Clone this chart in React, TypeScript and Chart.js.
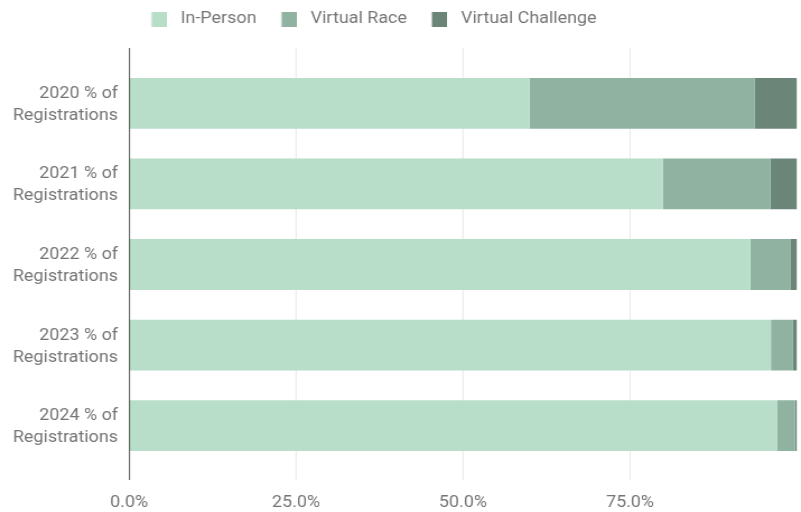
import React, { useEffect, useRef } from 'react';
import { Chart, registerables } from 'chart.js';

Chart.register(...registerables);

// ---- data ----
const categories: string[][] = [
  ['2020 % of', 'Registrations'],
  ['2021 % of', 'Registrations'],
  ['2022 % of', 'Registrations'],
  ['2023 % of', 'Registrations'],
  ['2024 % of', 'Registrations'],
];
const seriesLabels = ['In-Person', 'Virtual Race', 'Virtual Challenge'];
const inPerson = [60.0, 79.9, 93.0, 96.1, 97.0];
const virtualRace = [33.7, 16.1, 6.0, 3.3, 2.7];
const virtualChallenge = [6.3, 4.0, 1.0, 0.6, 0.3];
const xTickValues = [0, 25, 50, 75];

// ---- style ----
const seriesColors = ['#b8dec9', '#8fb3a0', '#6b8678'];
const textColor = '#757575';
const gridColor = '#e4e4e4';
const axisColor = '#444444';
const fontFamily = 'Roboto, "Noto Sans", sans-serif';

// The page is 801x512; the chart is laid out on a narrower canvas that is
// stretched horizontally, which reproduces the wide lettering of the original.
const W = 801;
const H = 512;
const CANVAS_W = 715;
const SX = W / CANVAS_W;

const LEGEND_TOP = 1;
const LEGEND_HEIGHT = 62;
const LEGEND_PAD = 10;
const LEGEND_BOX_SLOT = 30.3;
const LEGEND_SHIFT = 2.2;
const X_AXIS_HEIGHT = 46;
const Y_AXIS_WIDTH = 129 / SX;
const RIGHT_PAD = 4 / SX;
const EXTEND_TOP = 15;
const EXTEND_BOTTOM = 14;

const SWATCH_W = 15 / SX;
const SWATCH_H = 15;
const SWATCH_IMG_W = 21;

function makeSwatch(color: string): HTMLCanvasElement {
  const c = document.createElement('canvas');
  c.width = SWATCH_IMG_W;
  c.height = SWATCH_H;
  const g = c.getContext('2d')!;
  g.fillStyle = color;
  g.fillRect(SWATCH_IMG_W - SWATCH_W, 0, SWATCH_W, SWATCH_H);
  return c;
}

export default function App() {
  const ref = useRef<HTMLCanvasElement | null>(null);

  useEffect(() => {
    if (!ref.current) return;
    const swatches = seriesColors.map(makeSwatch);

    const legendPlacement = {
      id: 'legendPlacement',
      beforeInit(chart: any) {
        const legend = chart.legend;
        if (!legend) return;
        const orig = legend.fit;
        legend.fit = function () {
          orig.call(this);
          this.height = LEGEND_HEIGHT;
        };
      },
      afterLayout(chart: any) {
        const legend = chart.legend;
        if (!legend) return;
        legend.left -= LEGEND_SHIFT;
        legend.right -= LEGEND_SHIFT;
      },
    };

    const extendedGrid = {
      id: 'extendedGrid',
      beforeDatasetsDraw(chart: any) {
        const { ctx, chartArea, scales } = chart;
        const xs = scales.x;
        ctx.save();
        ctx.strokeStyle = gridColor;
        ctx.lineWidth = 1 / SX;
        xTickValues.forEach((v) => {
          if (v === 0) return;
          const px = xs.getPixelForValue(v);
          ctx.beginPath();
          ctx.moveTo(px, chartArea.top - EXTEND_TOP);
          ctx.lineTo(px, chartArea.bottom + EXTEND_BOTTOM);
          ctx.stroke();
        });
        ctx.restore();
      },
      afterDatasetsDraw(chart: any) {
        const { ctx, chartArea, scales } = chart;
        const px = scales.x.getPixelForValue(0) + 0.5 / SX;
        ctx.save();
        ctx.strokeStyle = axisColor;
        ctx.lineWidth = 1 / SX;
        ctx.beginPath();
        ctx.moveTo(px, chartArea.top - EXTEND_TOP);
        ctx.lineTo(px, chartArea.bottom + EXTEND_BOTTOM);
        ctx.stroke();
        ctx.restore();
      },
    };

    const seriesData = [inPerson, virtualRace, virtualChallenge];

    const chart = new Chart(ref.current, {
      type: 'bar',
      data: {
        labels: categories,
        datasets: seriesLabels.map((label, i) => ({
          label,
          data: seriesData[i],
          backgroundColor: seriesColors[i],
          borderWidth: 0,
          barPercentage: 1,
          categoryPercentage: 0.63,
        })),
      },
      options: {
        indexAxis: 'y',
        responsive: false,
        animation: false,
        devicePixelRatio: 1,
        layout: { padding: { top: LEGEND_TOP, right: RIGHT_PAD, bottom: 0, left: 0 } },
        plugins: {
          tooltip: { enabled: false },
          legend: {
            display: true,
            position: 'top',
            align: 'start',
            fullSize: false,
            labels: {
              usePointStyle: true,
              pointStyleWidth: LEGEND_BOX_SLOT,
              padding: LEGEND_PAD,
              color: textColor,
              font: { family: fontFamily, size: 16 },
              generateLabels: (c: any) => {
                const items = (Chart.defaults as any).plugins.legend.labels.generateLabels(c);
                return items.map((it: any, i: number) => ({
                  ...it,
                  pointStyle: swatches[i],
                  lineWidth: 0,
                  strokeStyle: 'rgba(0,0,0,0)',
                }));
              },
            },
          },
        },
        scales: {
          x: {
            type: 'linear',
            stacked: true,
            min: 0,
            max: 100,
            afterBuildTicks: (s: any) => {
              s.ticks = xTickValues.map((v) => ({ value: v }));
            },
            afterFit: (s: any) => {
              s.height = X_AXIS_HEIGHT;
            },
            grid: { display: false, drawTicks: false },
            border: { display: false },
            ticks: {
              padding: 27,
              color: textColor,
              font: { family: fontFamily, size: 16 },
              callback: (v: any) => Number(v).toFixed(1) + '%',
            },
          },
          y: {
            type: 'category',
            stacked: true,
            afterFit: (s: any) => {
              s.width = Y_AXIS_WIDTH;
            },
            grid: { display: false, drawTicks: false },
            border: { display: false },
            ticks: {
              padding: 11 / SX,
              labelOffset: 1.5,
              color: textColor,
              font: { family: fontFamily, size: 16, lineHeight: 1.375 },
            },
          },
        },
      } as any,
      plugins: [legendPlacement, extendedGrid],
    });

    return () => chart.destroy();
  }, []);

  return (
    <div style={{ position: 'absolute', left: 0, top: 0, width: W, height: H, background: '#ffffff' }}>
      <canvas
        ref={ref}
        width={CANVAS_W}
        height={H}
        style={{ display: 'block', width: W + 'px', height: H + 'px' }}
      />
    </div>
  );
}
